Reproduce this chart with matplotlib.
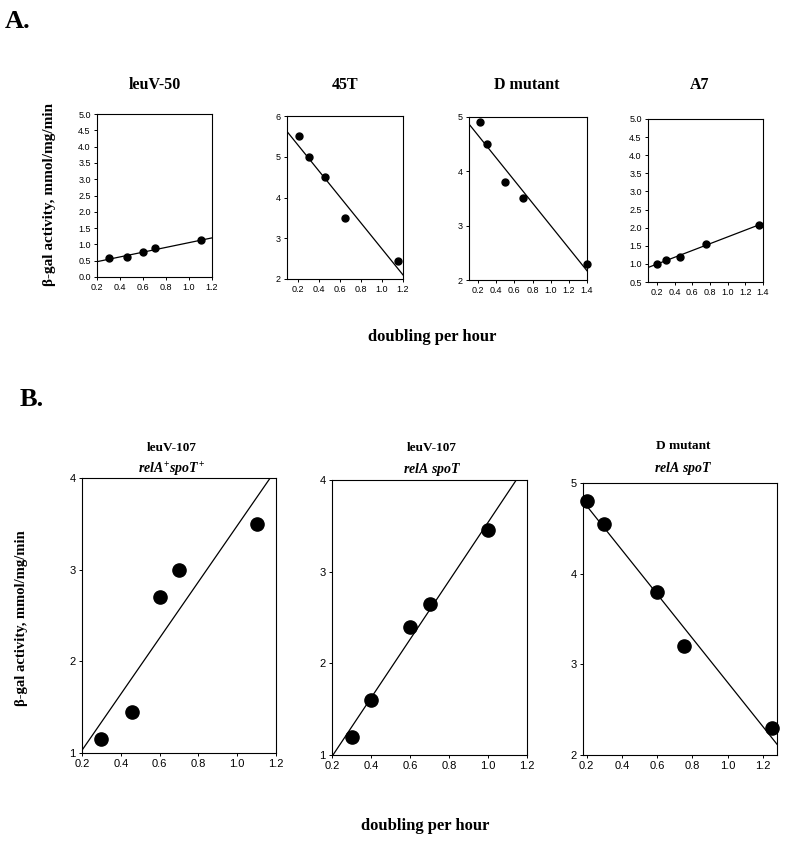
import matplotlib
matplotlib.use("Agg")
import matplotlib.pyplot as plt

plt.rcParams['mathtext.fontset'] = 'custom'
plt.rcParams['mathtext.rm'] = 'Liberation Serif:bold'
plt.rcParams['mathtext.it'] = 'Liberation Serif:italic:bold'

W, H = 800, 848

# Panel A data
leuv50_x = [0.3, 0.46, 0.6, 0.7, 1.1]
leuv50_y = [0.57, 0.6, 0.78, 0.88, 1.12]
leuv50_fit_x = [0.2, 1.2]
leuv50_fit_y = [0.47, 1.2]

t45_x = [0.21, 0.31, 0.46, 0.65, 1.15]
t45_y = [5.5, 5.0, 4.5, 3.5, 2.45]
t45_fit_x = [0.1, 1.2]
t45_fit_y = [5.62, 2.1]

dmut_x = [0.22, 0.3, 0.5, 0.7, 1.4]
dmut_y = [4.9, 4.5, 3.8, 3.5, 2.3]
dmut_fit_x = [0.1, 1.4]
dmut_fit_y = [4.87, 2.17]

a7_x = [0.2, 0.3, 0.46, 0.76, 1.36]
a7_y = [1.0, 1.1, 1.2, 1.55, 2.08]
a7_fit_x = [0.1, 1.4]
a7_fit_y = [0.9, 2.12]

# Panel B data
b107wt_x = [0.3, 0.46, 0.6, 0.7, 1.1]
b107wt_y = [1.15, 1.45, 2.7, 3.0, 3.5]
b107wt_fit_x = [0.2, 1.17]
b107wt_fit_y = [1.03, 4.0]

b107rs_x = [0.3, 0.4, 0.6, 0.7, 1.0]
b107rs_y = [1.2, 1.6, 2.4, 2.65, 3.45]
b107rs_fit_x = [0.205, 1.145]
b107rs_fit_y = [1.0, 4.0]

bdmut_x = [0.2, 0.3, 0.6, 0.75, 1.25]
bdmut_y = [4.8, 4.55, 3.8, 3.2, 2.3]
bdmut_fit_x = [0.2, 1.3]
bdmut_fit_y = [4.75, 2.07]

fig = plt.figure(figsize=(W / 100, H / 100), dpi=100)


def make_ax(l, r, t, b):
    return fig.add_axes([l / W, (H - b) / H, (r - l) / W, (b - t) / H])


def draw(ax, x, y, fx, fy, xlim, ylim, xticks, yticks, fmt, ms, tsize):
    ax.plot(fx, fy, color="black", lw=0.9)
    ax.plot(x, y, "o", color="black", ms=ms, clip_on=False)
    ax.set_xlim(xlim)
    ax.set_ylim(ylim)
    ax.set_xticks(xticks)
    ax.set_xticklabels(["%.1f" % v for v in xticks])
    ax.set_yticks(yticks)
    ax.set_yticklabels([fmt % v for v in yticks])
    for lab in ax.get_xticklabels() + ax.get_yticklabels():
        lab.set_family("Liberation Sans")
        lab.set_fontsize(tsize)
    ax.tick_params(direction="out", length=2.5, width=0.7, pad=2)
    for s in ax.spines.values():
        s.set_linewidth(0.8)


serif = "Liberation Serif"

# ---- A ----
a1 = make_ax(97, 212, 114, 277)
draw(a1, leuv50_x, leuv50_y, leuv50_fit_x, leuv50_fit_y, (0.2, 1.2), (0, 5),
     [0.2, 0.4, 0.6, 0.8, 1.0, 1.2], [0, 0.5, 1, 1.5, 2, 2.5, 3, 3.5, 4, 4.5, 5], "%.1f", 5, 6.5)
a2 = make_ax(287, 403, 116, 279)
draw(a2, t45_x, t45_y, t45_fit_x, t45_fit_y, (0.1, 1.2), (2, 6),
     [0.2, 0.4, 0.6, 0.8, 1.0, 1.2], [2, 3, 4, 5, 6], "%d", 5, 6.5)
a3 = make_ax(469, 587, 117, 280)
draw(a3, dmut_x, dmut_y, dmut_fit_x, dmut_fit_y, (0.1, 1.4), (2, 5),
     [0.2, 0.4, 0.6, 0.8, 1.0, 1.2, 1.4], [2, 3, 4, 5], "%d", 5, 6.5)
a4 = make_ax(648, 763, 119, 282)
draw(a4, a7_x, a7_y, a7_fit_x, a7_fit_y, (0.1, 1.4), (0.5, 5),
     [0.2, 0.4, 0.6, 0.8, 1.0, 1.2, 1.4], [0.5, 1, 1.5, 2, 2.5, 3, 3.5, 4, 4.5, 5], "%.1f", 5, 6.5)

a_titles = ["leuV-50", "45T", "D mutant", "A7"]
a_title_x = [155, 345, 527, 700]
for tx, t in zip(a_title_x, a_titles):
    fig.text(tx / W, 1 - 85 / H, t, family=serif, fontweight="bold", fontsize=11.5,
             ha="center", va="center")

fig.text(50 / W, 1 - 195 / H, "\u03b2-gal activity, mmol/mg/min", family=serif,
         fontweight="bold", fontsize=11, rotation=90, ha="center", va="center")
fig.text(432 / W, 1 - 337 / H, "doubling per hour", family=serif,
         fontweight="bold", fontsize=12, ha="center", va="center")
fig.text(5 / W, 1 - 22 / H, "A.", family=serif, fontweight="bold", fontsize=19,
         ha="left", va="center")

# ---- B ----
b1 = make_ax(82, 276, 478, 753)
draw(b1, b107wt_x, b107wt_y, b107wt_fit_x, b107wt_fit_y, (0.2, 1.2), (1, 4),
     [0.2, 0.4, 0.6, 0.8, 1.0, 1.2], [1, 2, 3, 4], "%d", 9.5, 8)
b2 = make_ax(332, 527, 480, 755)
draw(b2, b107rs_x, b107rs_y, b107rs_fit_x, b107rs_fit_y, (0.2, 1.2), (1, 4),
     [0.2, 0.4, 0.6, 0.8, 1.0, 1.2], [1, 2, 3, 4], "%d", 9.5, 8)
b3 = make_ax(583, 777, 483, 755)
draw(b3, bdmut_x, bdmut_y, bdmut_fit_x, bdmut_fit_y, (0.18, 1.28), (2, 5),
     [0.2, 0.4, 0.6, 0.8, 1.0, 1.2], [2, 3, 4, 5], "%d", 9.5, 8)

b_names = ["leuV-107", "leuV-107", "D mutant"]
b_geno = [r"$\mathit{relA}^{+}\mathit{spoT}^{+}$", r"$\mathit{relA\ spoT}$", r"$\mathit{relA\ spoT}$"]
b_cx = [172, 432, 683]
b_y1 = [448, 448, 446]
for cx, y1, n, g in zip(b_cx, b_y1, b_names, b_geno):
    fig.text(cx / W, 1 - y1 / H, n, family=serif, fontweight="bold", fontsize=9.5,
             ha="center", va="center")
    fig.text(cx / W, 1 - (y1 + 22) / H, g, fontsize=10, ha="center", va="center")

fig.text(22 / W, 1 - 618 / H, "\u03b2-gal activity, mmol/mg/min", family=serif,
         fontweight="bold", fontsize=10.5, rotation=90, ha="center", va="center")
fig.text(425 / W, 1 - 826 / H, "doubling per hour", family=serif,
         fontweight="bold", fontsize=12, ha="center", va="center")
fig.text(20 / W, 1 - 400 / H, "B.", family=serif, fontweight="bold", fontsize=19,
         ha="left", va="center")

fig.savefig("out.png", dpi=100)
